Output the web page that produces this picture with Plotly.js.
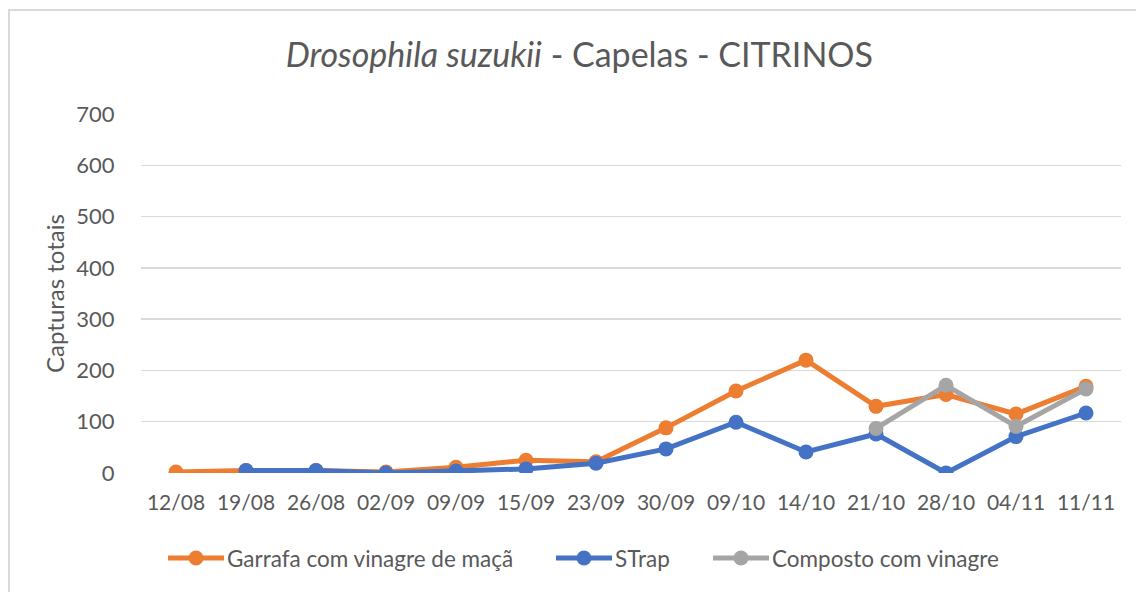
<!DOCTYPE html>
<html><head><meta charset="utf-8">
<script src="https://cdn.plot.ly/plotly-3.0.1.min.js"></script>
<style>
html,body{margin:0;padding:0;background:#fff;}
#frame{position:absolute;left:8px;top:9px;width:1140px;height:600px;border:2px solid #d9d9d9;box-sizing:border-box;}
#chart{position:absolute;left:0;top:0;width:1136px;height:592px;}
</style></head>
<body>
<div id="frame"></div>
<div id="chart"></div>
<script>
const categories = ["12/08","19/08","26/08","02/09","09/09","15/09","23/09","30/09","09/10","14/10","21/10","28/10","04/11","11/11"];
const garrafa = [2,5,5,2,11,25,22,88,160,220,130,153,115,169];
const strap = [null,5,5,0,4,8,19,47,99,41,76,0,71,117];
const composto = [null,null,null,null,null,null,null,null,null,null,87,171,91,164];
const names = ["Garrafa com vinagre de maçã","STrap","Composto com vinagre"];
const colors = ["#ED7D31","#4472C4","#A5A5A5"];
const series = [garrafa, strap, composto];

const traces = series.map((s,i)=>({
  x: categories, y: s, name: names[i], type:'scatter', mode:'lines+markers',
  line:{color:colors[i], width:5}, marker:{color:colors[i], size:15},
  connectgaps:false, showlegend:false
}));

// legend drawn manually (pixel layout -> paper coords)
const M = {l:141, r:15, t:114, b:119}, W = 1136, H = 592;
const pw = W - M.l - M.r, ph = H - M.t - M.b;
const px = v => (v - M.l) / pw;
const py = v => (H - M.b - v) / ph;
const legTextX = [227, 615, 772];
const legY = 558;
const shapes = [], annotations = [];
names.forEach((n,i)=>{
  const T = legTextX[i];
  shapes.push({type:'line', xref:'paper', yref:'paper', x0:px(T-59), x1:px(T-3), y0:py(legY), y1:py(legY),
               line:{color:colors[i], width:5}});
  shapes.push({type:'circle', xref:'paper', yref:'paper', x0:px(T-38.5), x1:px(T-23.5), y0:py(legY+7.5), y1:py(legY-7.5),
               fillcolor:colors[i], line:{width:0}});
  annotations.push({text:n, xref:'paper', yref:'paper', x:px(T-2), y:py(legY), xanchor:'left', yanchor:'middle',
                    showarrow:false, font:{size:22.5, color:'#595959'}});
});

const F = 'Lato, "Open Sans", sans-serif';
const layout = {
  width:W, height:H, margin:M,
  paper_bgcolor:'rgba(0,0,0,0)', plot_bgcolor:'rgba(0,0,0,0)',
  font:{family:F, color:'#595959', size:21},
  title:{text:'<i>Drosophila suzukii</i> - Capelas - CITRINOS', x:0.51, xanchor:'center', y:0.907, yanchor:'middle',
         font:{size:34, color:'#595959', family:F}},
  xaxis:{type:'category', range:[-0.5,13.5], showgrid:false, zeroline:false, showline:false,
         ticks:'outside', ticklen:11, tickcolor:'rgba(0,0,0,0)', tickfont:{size:21, color:'#595959'}},
  yaxis:{range:[0,700], dtick:100, showgrid:true, gridcolor:'#d9d9d9', gridwidth:1.5, zeroline:false, showline:false,
         ticks:'outside', ticklen:21, tickcolor:'rgba(0,0,0,0)', tickfont:{size:22, color:'#595959'},
         title:{text:'Capturas totais', font:{size:24, color:'#595959'}, standoff:4}},
  shapes, annotations, showlegend:false
};
Plotly.newPlot('chart', traces, layout, {displayModeBar:false, staticPlot:true});
</script>
</body></html>
